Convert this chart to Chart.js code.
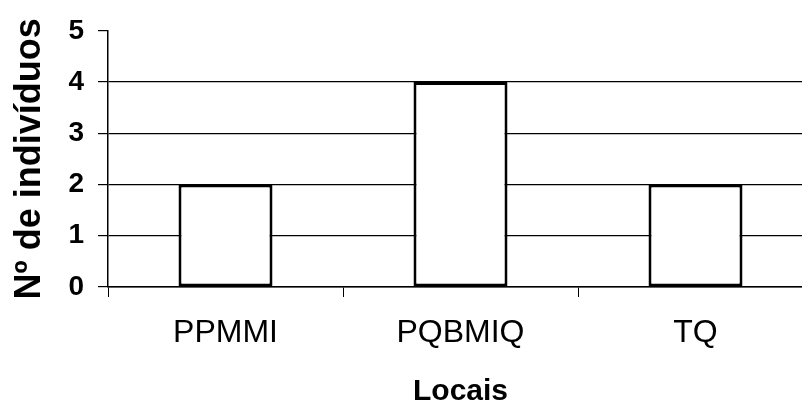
<!DOCTYPE html>
<html>
<head>
<meta charset="utf-8">
<script src="https://cdn.jsdelivr.net/npm/chart.js@4/dist/chart.umd.min.js"></script>
<style>
  html, body { margin: 0; padding: 0; overflow: hidden; background: #fff; }
  #wrap { width: 813px; height: 410px; position: relative; }
</style>
</head>
<body>
<div id="wrap"><canvas id="c"></canvas></div>
<script>
const categories = ["PPMMI", "PQBMIQ", "TQ"];
const individuos = [2, 4, 2];
const yMin = 0;
const yMax = 5;
const yStep = 1;
const xTitle = "Locais";
const yTitle = "Nº de indivíduos";

const FONT = "'Liberation Sans', Arial, Helvetica, sans-serif";

new Chart(document.getElementById('c'), {
  type: 'bar',
  data: {
    labels: categories,
    datasets: [{
      data: individuos,
      backgroundColor: '#ffffff',
      borderColor: '#000000',
      borderWidth: 3,
      borderSkipped: false,
      categoryPercentage: 1.0,
      barPercentage: 0.4
    }]
  },
  options: {
    responsive: true,
    maintainAspectRatio: false,
    animation: false,
    devicePixelRatio: 1,
    layout: { padding: { top: 27, right: 0, bottom: 0, left: 0 } },
    plugins: { legend: { display: false }, tooltip: { enabled: false } },
    scales: {
      x: {
        offset: true,
        grid: {
          offset: true,
          drawOnChartArea: false,
          drawTicks: true,
          tickLength: 10,
          tickColor: '#000',
          color: '#000'
        },
        border: { display: true, color: '#000', width: 1.5 },
        ticks: {
          color: '#000',
          padding: 17,
          font: { family: FONT, size: 32, weight: 'normal' }
        },
        title: {
          display: true,
          text: xTitle,
          color: '#000',
          padding: { top: 0, bottom: 0 },
          font: { family: FONT, size: 30, weight: 'bold' }
        },
        afterFit: (s) => { s.height = 123; }
      },
      y: {
        min: yMin,
        max: yMax,
        ticks: {
          stepSize: yStep,
          color: '#000',
          padding: 14,
          font: { family: FONT, size: 28, weight: 'bold' }
        },
        grid: {
          color: (ctx) => (ctx.tick && ctx.tick.value === yMax) ? 'rgba(0,0,0,0)' : '#000',
          lineWidth: 1.2,
          drawTicks: true,
          tickLength: 10,
          tickColor: '#000'
        },
        border: { display: true, color: '#000', width: 1.5 },
        title: {
          display: true,
          text: yTitle,
          color: '#000',
          padding: { top: 8, bottom: 0 },
          font: { family: FONT, size: 36, weight: 'bold' }
        },
        afterFit: (s) => { s.width = 108; }
      }
    }
  }
});
</script>
</body>
</html>
